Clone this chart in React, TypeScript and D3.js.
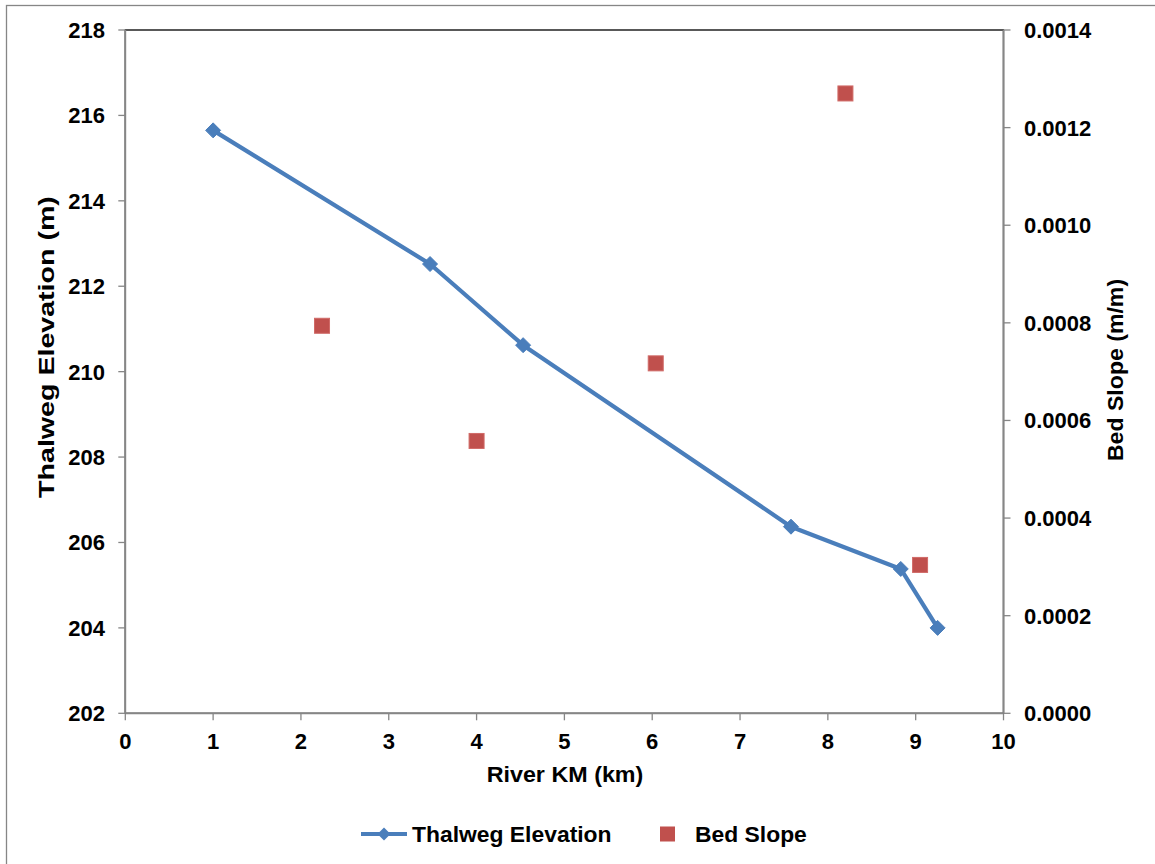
import React from "react";
import * as d3 from "d3";

// River kilometre of each surveyed thalweg point and its bed elevation (m)
const thalwegKm = [1.0, 3.47, 4.53, 7.58, 8.83, 9.25];
const thalwegElev = [215.65, 212.52, 210.62, 206.37, 205.38, 204.0];

// Reach midpoints and the bed slope between consecutive points (m/m)
const slopeKm = [2.24, 4.0, 6.04, 8.2, 9.05];
const slopeVal = [0.000794, 0.000558, 0.000717, 0.00127, 0.000304];

const xTicks = [0, 1, 2, 3, 4, 5, 6, 7, 8, 9, 10];
const leftTicks = [202, 204, 206, 208, 210, 212, 214, 216, 218];
const rightTicks = [0, 0.0002, 0.0004, 0.0006, 0.0008, 0.001, 0.0012, 0.0014];

const W = 1155;
const H = 864;
const plot = { left: 125.3, right: 1003.5, top: 30, bottom: 713.3 };

const BLUE = "#4a7ebb";
const RED = "#c0504d";
const AXIS = "#868686";
const FONT = "'Liberation Sans', Arial, sans-serif";

export default function App() {
  const x = d3.scaleLinear().domain([0, 10]).range([plot.left, plot.right]);
  const yL = d3.scaleLinear().domain([202, 218]).range([plot.bottom, plot.top]);
  const yR = d3.scaleLinear().domain([0, 0.0014]).range([plot.bottom, plot.top]);

  const line = d3
    .line<number>()
    .x((_, i) => x(thalwegKm[i]))
    .y((d) => yL(d));

  const diamond = (cx: number, cy: number, r: number) =>
    `M${cx},${cy - r}L${cx + r},${cy}L${cx},${cy + r}L${cx - r},${cy}Z`;

  const sq = 15;
  const textStyle = { fontFamily: FONT, fontWeight: 700, fill: "#000" } as const;

  return (
    <svg
      width={W}
      height={H}
      style={{ position: "absolute", left: 0, top: 0, background: "#fff" }}
    >
      {/* chart frame */}
      <rect x={6.5} y={5.5} width={W + 20} height={H + 20} fill="#fff" stroke={AXIS} strokeWidth={1.3} />

      {/* plot area border */}
      <rect
        x={plot.left}
        y={plot.top}
        width={plot.right - plot.left}
        height={plot.bottom - plot.top}
        fill="none"
        stroke="#000"
        strokeWidth={1.3}
      />

      {/* axes */}
      <line x1={plot.left} x2={plot.left} y1={plot.top} y2={plot.bottom} stroke={AXIS} strokeWidth={1.8} />
      <line x1={plot.right} x2={plot.right} y1={plot.top} y2={plot.bottom} stroke={AXIS} strokeWidth={1.8} />
      <line x1={plot.left} x2={plot.right} y1={plot.bottom} y2={plot.bottom} stroke={AXIS} strokeWidth={1.8} />

      {leftTicks.map((t) => (
        <g key={"l" + t}>
          <line x1={plot.left - 7} x2={plot.left} y1={yL(t)} y2={yL(t)} stroke={AXIS} strokeWidth={1.3} />
          <text x={105} y={yL(t)} dy="0.36em" textAnchor="end" fontSize={22} style={textStyle}>
            {t}
          </text>
        </g>
      ))}

      {rightTicks.map((t) => (
        <g key={"r" + t}>
          <line x1={plot.right} x2={plot.right + 7} y1={yR(t)} y2={yR(t)} stroke={AXIS} strokeWidth={1.3} />
          <text x={1024} y={yR(t)} dy="0.36em" textAnchor="start" fontSize={22} style={textStyle}>
            {t.toFixed(4)}
          </text>
        </g>
      ))}

      {xTicks.map((t) => (
        <g key={"x" + t}>
          <line x1={x(t)} x2={x(t)} y1={plot.bottom} y2={plot.bottom + 7} stroke={AXIS} strokeWidth={1.3} />
          <text x={x(t)} y={749} textAnchor="middle" fontSize={22} style={textStyle}>
            {t}
          </text>
        </g>
      ))}

      {/* axis titles */}
      <text
        transform="translate(565,782) scale(1.06,1)"
        textAnchor="middle"
        fontSize={22}
        style={textStyle}
      >
        River KM (km)
      </text>
      <text
        transform="translate(53.5,347) rotate(-90) scale(1.3,1)"
        textAnchor="middle"
        fontSize={22}
        style={textStyle}
      >
        Thalweg Elevation (m)
      </text>
      <text
        transform="translate(1123,370) rotate(-90) scale(1.05,1)"
        textAnchor="middle"
        fontSize={22}
        style={textStyle}
      >
        Bed Slope (m/m)
      </text>

      {/* thalweg elevation profile */}
      <path d={line(thalwegElev) || ""} fill="none" stroke={BLUE} strokeWidth={4.2} strokeLinejoin="round" />
      {thalwegElev.map((v, i) => (
        <path key={"d" + i} d={diamond(x(thalwegKm[i]), yL(v), 7.5)} fill={BLUE} stroke={BLUE} strokeWidth={1} />
      ))}

      {/* bed slope */}
      {slopeVal.map((v, i) => (
        <rect
          key={"s" + i}
          x={x(slopeKm[i]) - sq / 2}
          y={yR(v) - sq / 2}
          width={sq}
          height={sq}
          fill={RED}
          stroke="#d06a67"
          strokeWidth={1}
        />
      ))}

      {/* legend */}
      <g>
        <line x1={361} x2={407} y1={834} y2={834} stroke={BLUE} strokeWidth={4.2} />
        <path d={diamond(384, 834, 6.5)} fill={BLUE} />
        <text transform="translate(412,841.5) scale(1.04,1)" fontSize={22} style={textStyle}>
          Thalweg Elevation
        </text>
        <rect x={660} y={826.5} width={15} height={15} fill={RED} />
        <text transform="translate(695,841.5) scale(1.04,1)" fontSize={22} style={textStyle}>
          Bed Slope
        </text>
      </g>
    </svg>
  );
}
